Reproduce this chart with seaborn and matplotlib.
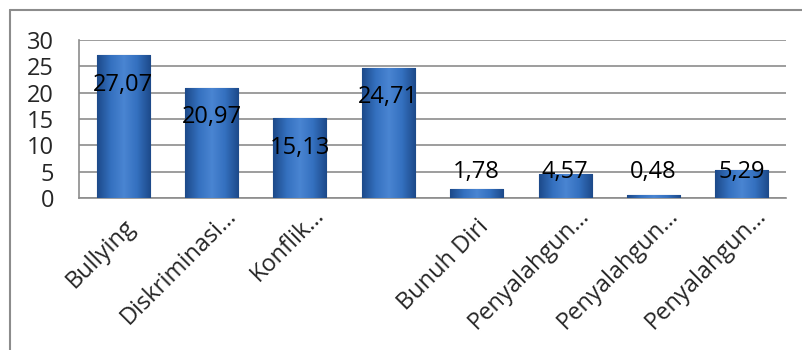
import matplotlib.pyplot as plt
import matplotlib.colors as mcolors
import matplotlib.transforms as mtransforms
import numpy as np
import pandas as pd
import seaborn as sns
from matplotlib.lines import Line2D

# Data
categories = ['Bullying', 'Diskriminasi…', 'Konflik…', '', 'Bunuh Diri',
              'Penyalahgun…', 'Penyalahgun…', 'Penyalahgun…']
values = [27.07, 20.97, 15.13, 24.71, 1.78, 4.57, 0.48, 5.29]
value_labels = ['27,07', '20,97', '15,13', '24,71', '1,78', '4,57', '0,48', '5,29']
y_ticks = [0, 5, 10, 15, 20, 25, 30]

df = pd.DataFrame({'pos': [str(i) for i in range(len(values))], 'value': values})

sns.set_style('white')
plt.rcParams['font.family'] = ['Open Sans', 'DejaVu Sans']

fig = plt.figure(figsize=(8.02, 3.5), dpi=100)
ax = fig.add_axes([0.0985, 0.4343, 0.8815, 0.4514])

sns.barplot(data=df, x='pos', y='value', color='#2f64ae', width=0.6,
            saturation=1, ax=ax, zorder=2)

# gradient fill inside each bar to mimic the bevelled Excel look
grad = mcolors.LinearSegmentedColormap.from_list(
    'bevel', ['#1d4a8a', '#3470bf', '#4a85d2', '#3470bf', '#1d4a8a'])
for p in ax.patches:
    x0, y0 = p.get_x(), p.get_y()
    w, h = p.get_width(), p.get_height()
    img = ax.imshow(np.linspace(0, 1, 64)[None, :], cmap=grad, aspect='auto',
                    extent=[x0, x0 + w, y0, y0 + h], zorder=3)
    img.set_clip_path(p)
    p.set_edgecolor('#1a3f75')
    p.set_linewidth(0.8)

ax.set_xlim(-0.5, len(values) - 0.5)
ax.set_ylim(0, 30)
ax.set_yticks(y_ticks)
ax.set_yticklabels([str(t) for t in y_ticks])
ax.yaxis.grid(True, color='#8c8c8c', linewidth=1.2, zorder=0)
ax.set_axisbelow(True)
ax.set_xlabel('')
ax.set_ylabel('')
ax.tick_params(axis='y', length=0, pad=18, labelsize=17)
ax.tick_params(axis='x', length=0, pad=12, labelsize=17)
ax.set_xticks(range(len(categories)))
ax.set_xticklabels(categories, rotation=45, ha='right', rotation_mode='anchor')

# truncated labels sit a little higher and further right in the original
shift = mtransforms.ScaledTranslation(9 / 72, 8 / 72, fig.dpi_scale_trans)
for lbl in ax.get_xticklabels():
    if lbl.get_text().endswith('…'):
        lbl.set_transform(lbl.get_transform() + shift)

for side in ['top', 'right']:
    ax.spines[side].set_visible(False)
for side in ['left', 'bottom']:
    ax.spines[side].set_color('#8c8c8c')
    ax.spines[side].set_linewidth(1.2)

# value labels
for i, (v, lab) in enumerate(zip(values, value_labels)):
    ax.text(i, max(v - 5.6, 4.9), lab, ha='center', va='center',
            fontsize=17, color='black', zorder=5)

# outer chart frame (extends past the image edge)
fig.add_artist(Line2D([10 / 802, 1], [1 - 10 / 350, 1 - 10 / 350],
                      transform=fig.transFigure, color='#8c8c8c', linewidth=1.5))
fig.add_artist(Line2D([10 / 802, 10 / 802], [0, 1 - 10 / 350],
                      transform=fig.transFigure, color='#8c8c8c', linewidth=1.5))

fig.savefig('out.png', dpi=100, facecolor='white')
